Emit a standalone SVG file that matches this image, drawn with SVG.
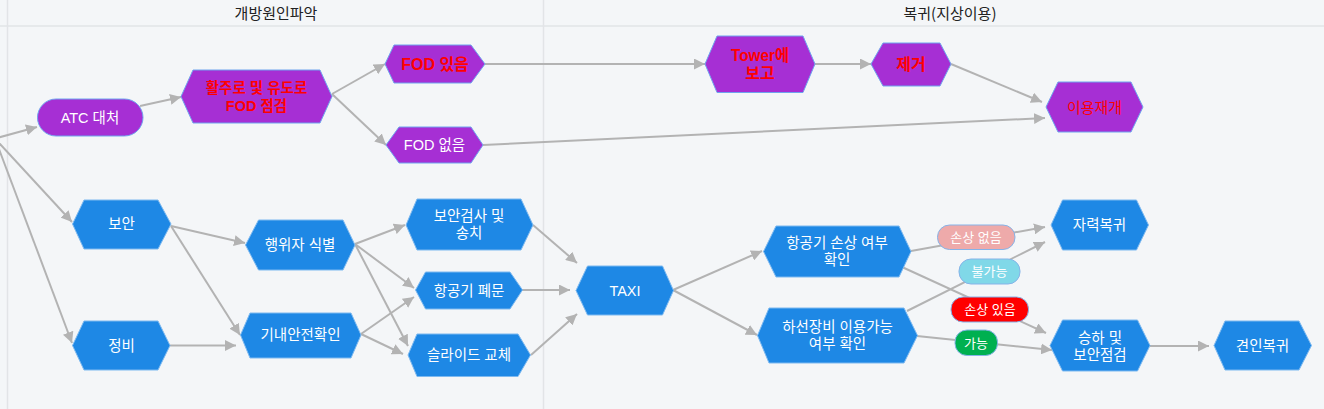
<svg xmlns="http://www.w3.org/2000/svg" width="1324" height="409" viewBox="0 0 1324 409">
<defs>
<style>
.bg{fill:#f4f6f8}
.grid{stroke:#e2e4e7;stroke-width:1.5;fill:none}
.hdr{font-family:"Noto Sans CJK KR","Noto Sans",sans-serif;font-size:15px;fill:#222;text-anchor:middle}
.b{fill:#1e88e5;stroke:#7db9f0;stroke-width:1}
.p{fill:#a62fd4;stroke:#6fa4ee;stroke-width:1}
.t{font-family:"Liberation Sans","Noto Sans CJK KR",sans-serif;font-size:14.5px;fill:#fff;text-anchor:middle;dominant-baseline:central}
.r{font-family:"Liberation Sans","Noto Sans CJK KR",sans-serif;fill:#ff0000;text-anchor:middle;dominant-baseline:central;font-weight:bold}
.e{stroke:#b3b3b3;stroke-width:2;fill:none;marker-end:url(#ah)}
.lt{font-family:"Liberation Sans","Noto Sans CJK KR",sans-serif;font-size:13px;fill:#fff;text-anchor:middle;dominant-baseline:central}
</style>
<marker id="ah" viewBox="0 0 10 10" refX="10" refY="5" markerWidth="5.5" markerHeight="5.5" orient="auto" markerUnits="strokeWidth">
<path d="M0,0 L10,5 L0,10 z" fill="#b3b3b3"/>
</marker>
</defs>
<rect class="bg" x="0" y="0" width="1324" height="409"/>
<g id="lanes">
<line class="grid" x1="0" y1="26" x2="1324" y2="26"/>
<line class="grid" x1="7.5" y1="0" x2="7.5" y2="409"/>
<line class="grid" x1="543.5" y1="0" x2="543.5" y2="409"/>
<text class="hdr" x="276" y="19">개방원인파악</text>
<text class="hdr" x="950" y="19">복귀(지상이용)</text>
</g>
<g id="connectors">
<line class="e" x1="-5" y1="138.5" x2="37" y2="127"/>
<line class="e" x1="-5" y1="138.5" x2="72" y2="222"/>
<line class="e" x1="-5" y1="138.5" x2="72" y2="343"/>
<line class="e" x1="140" y1="106" x2="181" y2="97"/>
<line class="e" x1="332" y1="94" x2="385" y2="64"/>
<line class="e" x1="332" y1="94" x2="386" y2="145"/>
<line class="e" x1="485" y1="64" x2="705" y2="64"/>
<line class="e" x1="483" y1="145" x2="1045" y2="118"/>
<line class="e" x1="815" y1="64" x2="871" y2="64"/>
<line class="e" x1="951" y1="64" x2="1042" y2="102"/>
<line class="e" x1="171" y1="226" x2="245" y2="243"/>
<line class="e" x1="171" y1="226" x2="240" y2="335"/>
<line class="e" x1="170" y1="345.5" x2="236" y2="345.5"/>
<line class="e" x1="355" y1="244" x2="405" y2="225"/>
<line class="e" x1="355" y1="244" x2="414" y2="288"/>
<line class="e" x1="355" y1="244" x2="408" y2="346"/>
<line class="e" x1="361" y1="334" x2="414" y2="297"/>
<line class="e" x1="361" y1="334" x2="403" y2="354"/>
<line class="e" x1="533" y1="225" x2="577" y2="263"/>
<line class="e" x1="522" y1="290" x2="570" y2="290"/>
<line class="e" x1="531" y1="355" x2="577" y2="314"/>
<line class="e" x1="673" y1="290" x2="762" y2="251"/>
<line class="e" x1="673" y1="290" x2="757" y2="335"/>
<line class="e" x1="911" y1="251" x2="1045" y2="227"/>
<line class="e" x1="902" y1="267" x2="1046" y2="333"/>
<line class="e" x1="907" y1="311" x2="1045" y2="242"/>
<line class="e" x1="917" y1="336" x2="1052" y2="350"/>
<line class="e" x1="1150" y1="346" x2="1209" y2="346"/>
</g>
<g id="n-atc"><rect class="p" x="37.5" y="99" width="105.5" height="37" rx="18.5"/><text class="t" x="90" y="117.5">ATC 대처</text></g>
<g id="n-fodcheck"><polygon class="p" points="181,96.5 193,70 320,70 332,96.5 320,123 193,123"/><text class="r" font-size="14.5" x="256.5" y="88">활주로 및 유도로<tspan x="256.5" dy="17.5">FOD 점검</tspan></text></g>
<g id="n-fodyes"><polygon class="p" points="385,64 394,45 471,45 485,64 471,83 394,83"/><text class="r" font-size="16" x="435" y="64">FOD 있음</text></g>
<g id="n-fodno"><polygon class="p" points="386,145 399,127 471,127 483,145 471,163 399,163"/><text class="t" x="434.5" y="145">FOD 없음</text></g>
<g id="n-tower"><polygon class="p" points="705,64 717,36 803,36 815,64 803,92.5 717,92.5"/><text class="r" font-size="16" x="760" y="55"><tspan textLength="58" lengthAdjust="spacingAndGlyphs">Tower에</tspan><tspan x="760" dy="18">보고</tspan></text></g>
<g id="n-remove"><polygon class="p" points="871,64 883,43 940,43 951,64 940,86 883,86"/><text class="r" font-size="16" x="911" y="64">제거</text></g>
<g id="n-resume"><polygon class="p" points="1046,107 1058,82 1131,82 1143,107 1131,132 1058,132"/><text class="r" font-size="15" style="font-weight:normal" x="1094.5" y="107">이용재개</text></g>
<g id="n-security"><polygon class="b" points="72.5,224 84,200 158,200 171,224 158,249 84,249"/><text class="t" x="121.5" y="224">보안</text></g>
<g id="n-maint"><polygon class="b" points="72.5,345.5 84,321 158,321 170,345.5 158,370 84,370"/><text class="t" x="121.5" y="345.5">정비</text></g>
<g id="n-actor"><polygon class="b" points="245.5,245 258.5,220 343,220 355,245 343,270 258.5,270"/><text class="t" x="300" y="245">행위자 식별</text></g>
<g id="n-cabin"><polygon class="b" points="240.5,335 250,313 351,313 361,335 351,358 250,358"/><text class="t" x="300.5" y="335">기내안전확인</text></g>
<g id="n-secchk"><polygon class="b" points="406,225 417,199 521,199 533,225 521,250 417,250"/><text class="t" x="469" y="216">보안검사 및<tspan x="469" dy="17">송치</tspan></text></g>
<g id="n-close"><polygon class="b" points="415.5,290 425.5,272 510,272 522.5,290 510,309 425.5,309"/><text class="t" x="469" y="290.5">항공기 폐문</text></g>
<g id="n-slide"><polygon class="b" points="408,355 417,334 518,334 530.5,355 518,376.5 417,376.5"/><text class="t" x="469" y="355">슬라이드 교체</text></g>
<g id="n-taxi"><polygon class="b" points="576,290.5 587.5,266 662.5,266 673.5,290.5 662.5,315 587.5,315"/><text class="t" x="625" y="290.5">TAXI</text></g>
<g id="n-dmg"><polygon class="b" points="763.5,251.5 776,226 899,226 911,251.5 899,277 776,277"/><text class="t" x="837" y="242.5">항공기 손상 여부<tspan x="837" dy="17.5">확인</tspan></text></g>
<g id="n-stair"><polygon class="b" points="757.5,335.5 769,308 904,308 917.5,335.5 904,363 769,363"/><text class="t" x="837.5" y="326.5">하선장비 이용가능<tspan x="837.5" dy="17.5">여부 확인</tspan></text></g>
<g id="n-self"><polygon class="b" points="1051,225 1062.5,200 1136.5,200 1148.5,225 1136.5,250 1062.5,250"/><text class="t" x="1099.5" y="225">자력복귀</text></g>
<g id="n-deplane"><polygon class="b" points="1050,345.5 1062.5,320 1137.5,320 1150,345.5 1137.5,371 1062.5,371"/><text class="t" x="1100" y="338">승하 및<tspan x="1100" dy="17">보안점검</tspan></text></g>
<g id="n-tow"><polygon class="b" points="1214,345.5 1225,321 1299,321 1311.5,345.5 1299,370 1225,370"/><text class="t" x="1262.5" y="345.5">견인복귀</text></g>
<g id="labels">
<g id="l-nodmg"><rect x="937.5" y="225" width="77.5" height="24.5" rx="12" fill="#eeaaaa" stroke="#86b3e8" stroke-width="1"/><text class="lt" x="976" y="237">손상 없음</text></g>
<g id="l-unavail"><rect x="959" y="259" width="61" height="25" rx="12" fill="#80d8e8" stroke="#86b3e8" stroke-width="1"/><text class="lt" x="989.5" y="271.5">불가능</text></g>
<g id="l-dmg"><rect x="951" y="297" width="77.5" height="25" rx="12" fill="#ff0000" stroke="#86b3e8" stroke-width="1"/><text class="lt" x="990" y="309.5">손상 있음</text></g>
<g id="l-avail"><rect x="955" y="330" width="42.5" height="25.5" rx="12" fill="#00b050" stroke="#86b3e8" stroke-width="1"/><text class="lt" x="976" y="343">가능</text></g>
</g>
</svg>
